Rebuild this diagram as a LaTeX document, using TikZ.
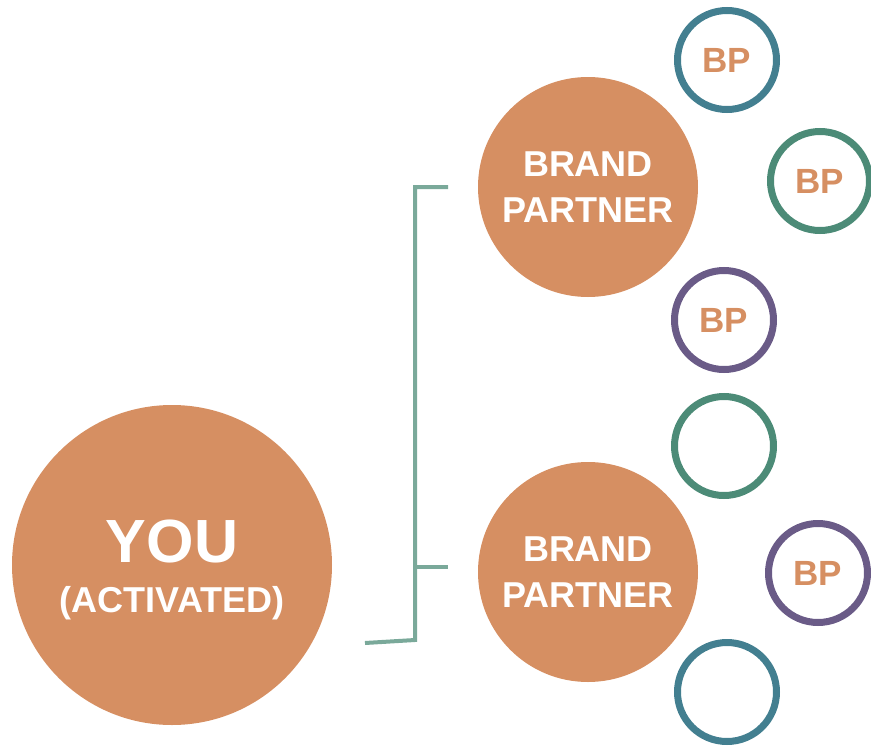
\documentclass[tikz,border=0pt]{standalone}
\usepackage{fontspec}
\setmainfont{Liberation Sans}
\usepackage{tikz}
\usetikzlibrary{positioning}
\definecolor{brandorange}{HTML}{D68F62}
\definecolor{bpteal}{HTML}{437F90}
\definecolor{bpgreen}{HTML}{4C8B77}
\definecolor{bppurple}{HTML}{6A5B87}
\definecolor{linkgreen}{HTML}{7AA99A}

\begin{document}
\begin{tikzpicture}[x=1pt, y=-1pt,
    bigdot/.style={circle, fill=brandorange, draw=none, text=white, align=center, font=\bfseries\fontsize{36}{46}\selectfont},
    bpring/.style={circle, draw=#1, line width=7pt, minimum size=99pt, inner sep=0pt, text=brandorange, font=\bfseries\fontsize{35}{40}\selectfont},
    link/.style={draw=linkgreen, line width=4pt}]
    %
    \useasboundingbox (0,0) rectangle (871,747);
    %
    \node[bigdot, minimum size=320pt] (you) at (172,565) {};
    \node[white, font=\bfseries\fontsize{61}{61}\selectfont] (youtxt) at (172,541) {YOU};
    \node[white, font=\bfseries\fontsize{36}{36}\selectfont] (acttxt) at (172,603) {(ACTIVATED)};
    %
    \node[bigdot, minimum size=220pt] (bp1) at (588,187) {BRAND\\PARTNER};
    \node[bigdot, minimum size=220pt] (bp2) at (588,572) {BRAND\\PARTNER};
    %
    \node[bpring=bpteal] (r1) at (727,60) {BP};
    \node[bpring=bpgreen] (r2) at (820,181) {BP};
    \node[bpring=bppurple] (r3) at (724,320) {BP};
    \node[bpring=bpgreen] (r4) at (724,446) {};
    \node[bpring=bppurple] (r5) at (818,573) {BP};
    \node[bpring=bpteal] (r6) at (727,692) {};
    %
    \coordinate (start) at (365,643);
    \coordinate (elbow) at (415,640);
    \coordinate (top) at (415,187);
    \coordinate (mid) at (415,567);
    \coordinate (end1) at (448,187);
    \coordinate (end2) at (448,567);
    %
    \draw[link] (start) -- (elbow) -- (top) -- (end1);
    \draw[link] (mid) -- (end2);
    \end{tikzpicture}
\end{document}
